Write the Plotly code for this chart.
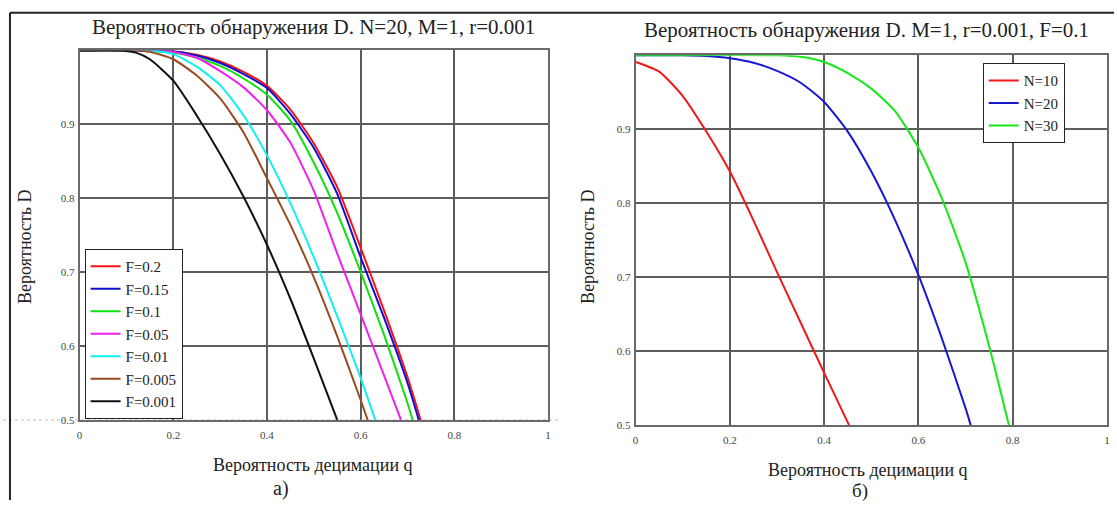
import plotly.graph_objects as go

# ---------------- data (left panel: N=20, M=1, r=0.001) ----------------
q_F02 = [0, 0.1, 0.2, 0.25, 0.3, 0.35, 0.4, 0.45, 0.5, 0.55, 0.6, 0.65, 0.7, 0.728]
D_F02 = [1, 1, 0.999, 0.994, 0.985, 0.971, 0.952, 0.92, 0.874, 0.815, 0.733, 0.648, 0.558, 0.5]
q_F015 = [0, 0.1, 0.2, 0.25, 0.3, 0.35, 0.4, 0.45, 0.5, 0.55, 0.6, 0.65, 0.7, 0.724]
D_F015 = [1, 1, 0.999, 0.993, 0.983, 0.968, 0.949, 0.914, 0.868, 0.806, 0.72, 0.638, 0.55, 0.5]
q_F01 = [0, 0.1, 0.2, 0.25, 0.3, 0.35, 0.4, 0.45, 0.5, 0.55, 0.6, 0.65, 0.7, 0.711]
D_F01 = [1, 1, 0.997, 0.99, 0.979, 0.962, 0.94, 0.905, 0.848, 0.78, 0.7, 0.615, 0.523, 0.5]
q_F005 = [0, 0.1, 0.2, 0.25, 0.3, 0.35, 0.4, 0.45, 0.5, 0.55, 0.6, 0.65, 0.686]
D_F005 = [1, 1, 0.998, 0.99, 0.972, 0.95, 0.919, 0.875, 0.81, 0.725, 0.643, 0.56, 0.5]
q_F001 = [0, 0.15, 0.2, 0.25, 0.3, 0.35, 0.4, 0.45, 0.5, 0.55, 0.6, 0.631]
D_F001 = [1, 1, 0.995, 0.978, 0.953, 0.912, 0.858, 0.793, 0.72, 0.64, 0.557, 0.5]
q_F0005 = [0, 0.12, 0.15, 0.2, 0.25, 0.3, 0.35, 0.4, 0.45, 0.5, 0.55, 0.6, 0.615]
D_F0005 = [1, 1, 0.998, 0.988, 0.966, 0.935, 0.889, 0.827, 0.764, 0.693, 0.613, 0.527, 0.5]
q_F0001 = [0, 0.09, 0.12, 0.15, 0.2, 0.25, 0.3, 0.35, 0.4, 0.45, 0.5, 0.55]
D_F0001 = [1, 1, 0.997, 0.988, 0.959, 0.912, 0.86, 0.802, 0.737, 0.664, 0.583, 0.5]

left_labels = ["F=0.2", "F=0.15", "F=0.1", "F=0.05", "F=0.01", "F=0.005", "F=0.001"]
left_q = [q_F02, q_F015, q_F01, q_F005, q_F001, q_F0005, q_F0001]
left_D = [D_F02, D_F015, D_F01, D_F005, D_F001, D_F0005, D_F0001]
left_colors = ["#ff1010", "#1010d0", "#10e010", "#f020f0", "#10f0f0", "#9a4a20", "#101010"]

# ---------------- data (right panel: M=1, r=0.001, F=0.1) ----------------
q_N10 = [0, 0.05, 0.1, 0.15, 0.2, 0.25, 0.3, 0.35, 0.4, 0.453]
D_N10 = [0.991, 0.978, 0.945, 0.897, 0.843, 0.777, 0.707, 0.639, 0.571, 0.5]
q_N20 = [0, 0.1, 0.15, 0.2, 0.25, 0.3, 0.35, 0.4, 0.45, 0.5, 0.55, 0.6, 0.65, 0.7, 0.711]
D_N20 = [1, 1, 0.999, 0.996, 0.99, 0.979, 0.963, 0.937, 0.897, 0.843, 0.778, 0.703, 0.617, 0.523, 0.5]
q_N30 = [0, 0.3, 0.35, 0.4, 0.45, 0.5, 0.55, 0.6, 0.65, 0.7, 0.75, 0.792]
D_N30 = [1, 1, 0.998, 0.991, 0.976, 0.955, 0.925, 0.875, 0.806, 0.72, 0.607, 0.5]

right_labels = ["N=10", "N=20", "N=30"]
right_q = [q_N10, q_N20, q_N30]
right_D = [D_N10, D_N20, D_N30]
right_colors = ["#f01818", "#1818d0", "#18e818"]

x_ticks = [0, 0.2, 0.4, 0.6, 0.8, 1]
x_ticktext = ["0", "0.2", "0.4", "0.6", "0.8", "1"]
y_ticks = [0.5, 0.6, 0.7, 0.8, 0.9]
y_ticktext = ["0.5", "0.6", "0.7", "0.8", "0.9"]

W, H = 1117, 506
FONT = "Liberation Serif"


def px(x):
    return x / W


def py(y):
    return 1 - y / H


fig = go.Figure()
for lab, qq, dd, c in zip(left_labels, left_q, left_D, left_colors):
    fig.add_trace(go.Scatter(x=qq, y=dd, mode="lines", name=lab,
                             line=dict(color=c, width=2, shape="spline", smoothing=0.6),
                             xaxis="x", yaxis="y", legend="legend"))
for lab, qq, dd, c in zip(right_labels, right_q, right_D, right_colors):
    fig.add_trace(go.Scatter(x=qq, y=dd, mode="lines", name=lab,
                             line=dict(color=c, width=2, shape="spline", smoothing=0.6),
                             xaxis="x2", yaxis="y2", legend="legend2"))

grid = dict(showgrid=True, gridcolor="#5c5c5c", gridwidth=1.6, zeroline=False,
            showline=True, linecolor="#6a6a6a", linewidth=1.6, mirror=True,
            ticks="", tickfont=dict(family=FONT, size=11, color="#444"),
            ticklabeloverflow="allow")

fig.update_layout(
    width=W, height=H,
    margin=dict(l=0, r=0, t=0, b=0),
    paper_bgcolor="white", plot_bgcolor="white",
    font=dict(family=FONT, color="#222"),
    xaxis=dict(domain=[px(77), px(548)], range=[0, 1], tickvals=x_ticks, ticktext=x_ticktext,
               anchor="y", ticklabelstandoff=4, **grid),
    yaxis=dict(domain=[py(425), py(51)], range=[0.5, 1], tickvals=y_ticks, ticktext=y_ticktext,
               anchor="x", ticklabelstandoff=1, **grid),
    xaxis2=dict(domain=[px(636), px(1110)], range=[0, 1], tickvals=x_ticks, ticktext=x_ticktext,
                anchor="y2", ticklabelstandoff=4, **grid),
    yaxis2=dict(domain=[py(430.5), py(56)], range=[0.5, 1], tickvals=y_ticks, ticktext=y_ticktext,
                anchor="x2", ticklabelstandoff=1, **grid),
    legend=dict(x=px(82), y=py(252), xanchor="left", yanchor="top",
                bordercolor="#222", borderwidth=1, bgcolor="white",
                font=dict(family=FONT, size=15, color="#222"), tracegroupgap=0),
    legend2=dict(x=px(985), y=py(64), xanchor="left", yanchor="top",
                 bordercolor="#222", borderwidth=1, bgcolor="white",
                 font=dict(family=FONT, size=15, color="#222"), tracegroupgap=0),
    showlegend=True,
)

ann = [
    dict(text="Вероятность обнаружения D. N=20, M=1, r=0.001", x=px(312), y=py(27), size=21),
    dict(text="Вероятность обнаружения D. M=1, r=0.001, F=0.1", x=px(868), y=py(30), size=21),
    dict(text="Вероятность децимации q", x=px(312), y=py(471), size=18),
    dict(text="Вероятность децимации q", x=px(870), y=py(476), size=18),
    dict(text="а)", x=px(280), y=py(494), size=20),
    dict(text="б)", x=px(862), y=py(497), size=19),
]
for a in ann:
    fig.add_annotation(text=a["text"], x=a["x"], y=a["y"], xref="paper", yref="paper",
                       showarrow=False, xanchor="center", yanchor="middle",
                       font=dict(family=FONT, size=a["size"], color="#222"))
for xx, yy in [(22, 250), (588, 250)]:
    fig.add_annotation(text="Вероятность D", x=px(xx), y=py(yy), xref="paper", yref="paper",
                       showarrow=False, textangle=-90, xanchor="center", yanchor="middle",
                       font=dict(family=FONT, size=18, color="#222"))

# outer frame lines and dotted baseline
fig.add_shape(type="line", xref="paper", yref="paper", x0=px(7), x1=1, y0=py(13), y1=py(13),
              line=dict(color="#222", width=2))
fig.add_shape(type="line", xref="paper", yref="paper", x0=px(7), x1=px(7), y0=py(13), y1=0,
              line=dict(color="#222", width=2))
fig.add_shape(type="line", xref="paper", yref="paper", x0=0, x1=px(560), y0=py(425), y1=py(425),
              line=dict(color="#bbbbbb", width=1, dash="dot"), layer="below")

fig.write_html("out.html", config={"displayModeBar": False},
               post_script="document.body.style.margin='0px';")
